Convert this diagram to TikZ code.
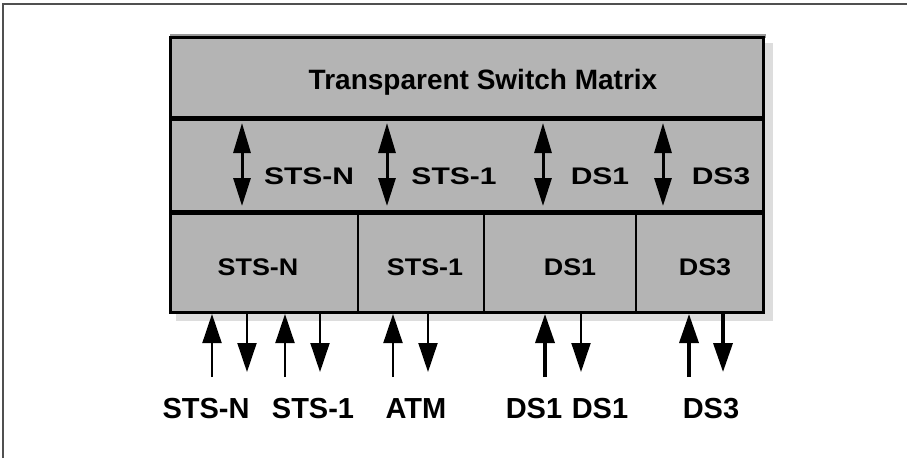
\documentclass[tikz,border=0pt]{standalone}
\usepackage{fontspec}
\setmainfont{Liberation Sans}
\newfontfamily\midfont[FakeStretch=1.25]{Liberation Sans}
\newfontfamily\cellfont[FakeStretch=1.12]{Liberation Sans}
\usetikzlibrary{arrows.meta}
\definecolor{boxgray}{HTML}{B4B4B4}
\definecolor{shadegray}{HTML}{DDDDDD}
\definecolor{framegray}{HTML}{505050}
\begin{document}
\begin{tikzpicture}[x = 1pt, y = -1pt]
\tikzstyle{TitleText}=[anchor = base, inner sep = 0pt, font = \bfseries\fontsize{28}{30}\selectfont]
\tikzstyle{MidText}=[anchor = base, inner sep = 0pt, font = \midfont\bfseries\fontsize{24}{26}\selectfont]
\tikzstyle{CellText}=[anchor = base, inner sep = 0pt, font = \cellfont\bfseries\fontsize{24}{26}\selectfont]
\tikzstyle{PortText}=[anchor = base, inner sep = 0pt, font = \bfseries\fontsize{29}{31}\selectfont]
\tikzstyle{Both}=[line width = 3pt, {Triangle[length = 30pt, width = 17pt]}-{Triangle[length = 28pt, width = 17pt]}]
\tikzstyle{InThin}=[line width = 2pt, -{Triangle[length = 29pt, width = 19pt]}]
\tikzstyle{InThick}=[line width = 3.5pt, -{Triangle[length = 29pt, width = 19pt]}]
\tikzstyle{OutThin}=[line width = 2pt, -{Triangle[length = 29pt, width = 19pt]}]
\tikzstyle{OutThick}=[line width = 3.5pt, -{Triangle[length = 29pt, width = 19pt]}]
\useasboundingbox (0,0) rectangle (907,458);
\fill[white] (0,0) rectangle (907,458);
\draw[framegray, line width = 1.5pt] (3,458) -- (3,4) -- (907,4);
\fill[boxgray!85!black] (170,34) rectangle (766,38);
\fill[shadegray] (764,43) rectangle (773,321);
\fill[shadegray] (176,312) rectangle (773,321);
\fill[boxgray] (170,37) rectangle (763,312);
\draw[line width = 5pt] (170,118) -- (763,118);
\draw[line width = 5pt] (170,212) -- (763,212);
\draw[line width = 2pt] (358,212) -- (358,312);
\draw[line width = 2pt] (484,212) -- (484,312);
\draw[line width = 2pt] (636,212) -- (636,312);
\draw[line width = 3pt] (170,37) rectangle (763,312);
\node[TitleText] (matrix) at (483,89) {Transparent Switch Matrix};
\node[MidText] (mstsn) at (309,184) {STS-N};
\node[MidText] (msts1) at (454,184) {STS-1};
\node[MidText] (mds1) at (600,184) {DS1};
\node[MidText] (mds3) at (721,184) {DS3};
\node[CellText] (cstsn) at (258,275) {STS-N};
\node[CellText] (csts1) at (425,275) {STS-1};
\node[CellText] (cds1) at (570,275) {DS1};
\node[CellText] (cds3) at (705,275) {DS3};
\node[PortText] (pstsn) at (206,418) {STS-N};
\node[PortText] (psts1) at (313,418) {STS-1};
\node[PortText] (patm) at (416,418) {ATM};
\node[PortText] (pds1a) at (534,418) {DS1};
\node[PortText] (pds1b) at (600,418) {DS1};
\node[PortText] (pds3) at (711,418) {DS3};
\coordinate (m1t) at (242,123);
\coordinate (m1b) at (242,206);
\coordinate (m2t) at (387,123);
\coordinate (m2b) at (387,206);
\coordinate (m3t) at (543,123);
\coordinate (m3b) at (543,206);
\coordinate (m4t) at (663,123);
\coordinate (m4b) at (663,206);
\draw[Both] (m1t) -- (m1b);
\draw[Both] (m2t) -- (m2b);
\draw[Both] (m3t) -- (m3b);
\draw[Both] (m4t) -- (m4b);
\coordinate (i1a) at (212,377);
\coordinate (i1b) at (212,314);
\coordinate (o1a) at (247,313);
\coordinate (o1b) at (247,372);
\coordinate (i2a) at (285,377);
\coordinate (i2b) at (285,314);
\coordinate (o2a) at (320,313);
\coordinate (o2b) at (320,372);
\coordinate (i3a) at (393,377);
\coordinate (i3b) at (393,314);
\coordinate (o3a) at (428,313);
\coordinate (o3b) at (428,372);
\coordinate (i4a) at (545,377);
\coordinate (i4b) at (545,314);
\coordinate (o4a) at (581,313);
\coordinate (o4b) at (581,372);
\coordinate (i5a) at (689,377);
\coordinate (i5b) at (689,314);
\coordinate (o5a) at (723,313);
\coordinate (o5b) at (723,372);
\draw[InThin] (i1a) -- (i1b);
\draw[OutThin] (o1a) -- (o1b);
\draw[InThin] (i2a) -- (i2b);
\draw[OutThin] (o2a) -- (o2b);
\draw[InThin] (i3a) -- (i3b);
\draw[OutThin] (o3a) -- (o3b);
\draw[InThick] (i4a) -- (i4b);
\draw[OutThin] (o4a) -- (o4b);
\draw[InThick] (i5a) -- (i5b);
\draw[OutThick] (o5a) -- (o5b);
\end{tikzpicture}
\end{document}
